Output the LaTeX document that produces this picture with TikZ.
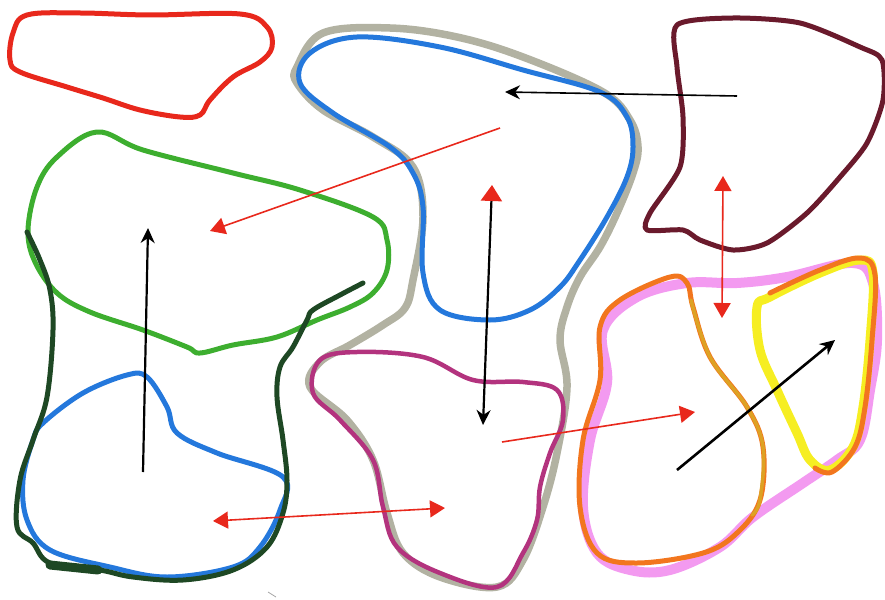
\documentclass[tikz,border=0pt]{standalone}
\usepackage{tikz}
\usepackage{xcolor}
\usetikzlibrary{arrows.meta}

\definecolor{penred}{HTML}{E8281C}
\definecolor{pengreen}{HTML}{3DAE2F}
\definecolor{pendark}{HTML}{1E4824}
\definecolor{penblue}{HTML}{2478DC}
\definecolor{pengray}{HTML}{B2B2A2}
\definecolor{penmagenta}{HTML}{B3337E}
\definecolor{penmaroon}{HTML}{6A1A2C}
\definecolor{penpink}{HTML}{F39AF0}
\definecolor{penorange}{HTML}{F2761E}
\definecolor{pengold}{HTML}{DDA224}
\definecolor{penyellow}{HTML}{F6EE22}

\begin{document}
\begin{tikzpicture}[x=1pt,y=-1pt,
    blob/.style={line width=5pt, line cap=round, line join=round},
    redarrow/.style={draw=penred, line width=1.6pt, -{Triangle[length=15pt,width=17pt]}},
    redboth/.style={draw=penred, line width=1.6pt, {Triangle[length=15pt,width=17pt]}-{Triangle[length=15pt,width=17pt]}},
    blackarrow/.style={draw=black, line width=2.2pt, -{Stealth[length=15pt,width=14pt]}}]
\useasboundingbox (0,0) rectangle (885,599);

% Red region
\draw[blob, penred] plot[smooth cycle, tension=0.6] coordinates {(27,15) (80,13) (150,15) (240,14) (267,27) (272,47) (260,62) (233,77) (210,100) (200,115) (180,117) (140,110) (103,98) (67,87) (20,72) (10,60) (13,33)};

% Green region
\draw[blob, pengreen] plot[smooth cycle, tension=0.6] coordinates {(97,132) (143,150) (233,173) (300,190) (373,217) (387,240) (387,270) (373,293) (350,307) (317,320) (277,337) (233,345) (200,353) (187,347) (143,330) (90,312) (57,293) (35,262) (28,230) (37,187) (57,157)};

% Blue region (bottom left)
\draw[blob, penblue] plot[smooth cycle, tension=0.6] coordinates {(43,423) (83,393) (127,375) (147,377) (167,407) (177,433) (217,453) (283,477) (280,510) (260,547) (233,567) (167,577) (110,567) (50,550) (27,520) (23,480) (33,440)};

% Dark green border
\draw[blob, pendark] plot[smooth, tension=0.6] coordinates {(27,232) (40,260) (50,290) (53,330) (47,397) (33,440) (20,480) (17,527) (33,543) (50,563) (100,570) (133,577) (183,580) (233,570) (267,547) (283,513) (287,480) (283,440) (277,397) (280,367) (293,347) (307,320) (313,310) (340,295) (363,283)};
\draw[pendark, line width=9pt, line cap=round] (50,565) -- (98,570);

% Gray region
\draw[line width=7.5pt, pengray, line join=round] plot[smooth cycle, tension=0.6] coordinates {(297,67) (323,33) (390,28) (457,37) (523,57) (603,92) (630,120) (638,147) (633,173) (617,213) (600,247) (580,277) (567,307) (560,340) (567,387) (557,453) (543,507) (523,560) (497,587) (440,577) (403,553) (387,513) (373,460) (347,420) (310,387) (320,362) (350,345) (383,325) (405,308) (413,280) (423,217) (413,167) (373,137) (323,110) (297,83)};

% Blue region (top)
\draw[blob, penblue] plot[smooth cycle, tension=0.6] coordinates {(310,53) (357,37) (440,47) (523,70) (600,92) (627,117) (633,147) (627,177) (607,217) (580,260) (560,287) (530,310) (490,320) (440,310) (423,273) (423,207) (413,173) (390,147) (333,113) (300,83)};

% Magenta region
\draw[blob, penmagenta, line width=4.5pt] plot[smooth cycle, tension=0.6] coordinates {(320,360) (357,352) (423,357) (473,380) (523,382) (557,390) (563,420) (550,453) (540,487) (537,520) (523,553) (497,587) (440,573) (397,547) (383,507) (373,460) (340,420) (313,393)};

% Maroon region
\draw[blob, penmaroon] plot[smooth cycle, tension=0.45] coordinates {(677,25) (733,18) (800,23) (860,47) (882,60) (883,100) (867,143) (840,177) (807,213) (767,243) (733,250) (700,240) (683,230) (647,230) (650,213) (680,167) (683,117) (677,67)};

% Pink region
\draw[line width=10pt, penpink, line join=round] plot[smooth cycle, tension=0.6] coordinates {(603,330) (637,297) (687,283) (737,283) (787,277) (853,263) (873,283) (877,340) (870,390) (860,440) (837,460) (803,483) (753,517) (720,547) (670,570) (630,570) (597,553) (583,507) (590,440) (607,383)};

% Yellow region
\draw[line width=9pt, penyellow, line join=round] plot[smooth cycle, tension=0.6] coordinates {(757,307) (770,297) (820,273) (860,260) (873,273) (870,340) (863,407) (853,447) (830,470) (810,460) (797,433) (777,390) (760,350)};
\draw[blob, penorange] plot[smooth, tension=0.6] coordinates {(770,293) (820,270) (860,258) (875,275) (872,340) (865,407) (855,447) (832,472) (815,468)};

% Orange region
\draw[blob, penorange] plot[smooth cycle, tension=0.6] coordinates {(600,327) (620,300) (670,277) (687,283) (693,307) (710,357) (747,407) (763,447) (760,500) (737,533) (703,553) (637,563) (597,553) (580,507) (583,440) (600,380)};
\draw[line width=3.5pt, pengold, line cap=round] plot[smooth, tension=0.6] coordinates {(691,300) (710,357) (747,407) (763,447) (760,500) (752,515)};

% stray mark
\draw[gray!70, line width=0.8pt] (268,592) -- (276,597);

% Arrow ends
\coordinate (maroonMid) at (737,96);
\coordinate (grayTop) at (505,92);
\coordinate (grayRed) at (500,128);
\coordinate (greenMid) at (210,231);
\coordinate (blueLow) at (143,472);
\coordinate (greenLow) at (148,228);
\coordinate (blueRed) at (213,521);
\coordinate (magLow) at (445,508);
\coordinate (blueUp) at (492,185);
\coordinate (magUp) at (483,425);
\coordinate (maroonLow) at (723,176);
\coordinate (pinkUp) at (722,318);
\coordinate (magMid) at (502,442);
\coordinate (orangeMid) at (695,412);
\coordinate (orangeLow) at (677,470);
\coordinate (yellowMid) at (835,340);

% Arrows
\draw[blackarrow, line width=1.6pt] (maroonMid) -- (grayTop);
\draw[redarrow] (grayRed) -- (greenMid);
\draw[blackarrow] (blueLow) -- (greenLow);
\draw[redboth] (blueRed) -- (magLow);
\draw[draw=black, line width=2.2pt, {Triangle[color=penred,length=16pt,width=21pt]}-{Stealth[length=15pt,width=14pt]}] (blueUp) -- (magUp);
\draw[redboth] (maroonLow) -- (pinkUp);
\draw[redarrow] (magMid) -- (orangeMid);
\draw[blackarrow, line width=2.6pt] (orangeLow) -- (yellowMid);
\end{tikzpicture}
\end{document}
